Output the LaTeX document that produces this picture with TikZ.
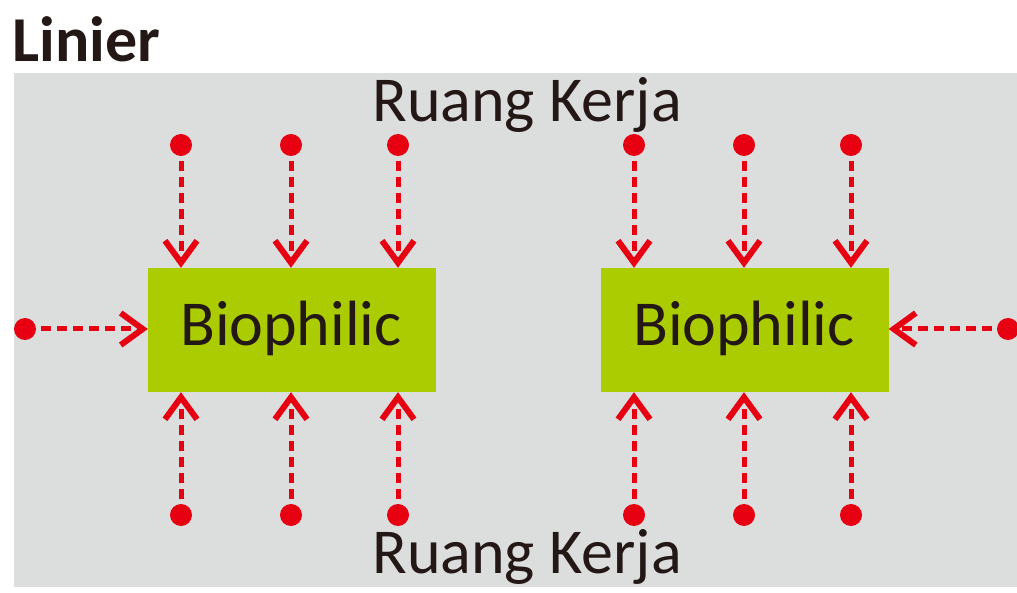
\documentclass[tikz,border=0pt]{standalone}
\usepackage{fontspec}
\setmainfont{Carlito}
\usetikzlibrary{arrows.meta}
\definecolor{bgray}{HTML}{DCDDDD}
\definecolor{bred}{HTML}{E60012}
\definecolor{bgreen}{HTML}{AACC00}
\definecolor{btext}{HTML}{231815}
\tikzset{
  dot/.style={circle, fill=bred, minimum size=22pt, inner sep=0pt, outer sep=0pt},
  box/.style={fill=bgreen, minimum width=288pt, minimum height=124pt, inner sep=0pt,
    text=btext},
  lbl/.style={text=btext, font=\fontsize{64}{64}\selectfont, inner sep=0pt},
  arr/.style={draw=bred, line width=5pt, dash pattern=on 10pt off 6pt, shorten <=5pt,
    -{Straight Barb[length=22pt,width=32pt,line width=6pt]}}
}
\begin{document}
\begin{tikzpicture}[x=1pt,y=-1pt]
\useasboundingbox (0,0) rectangle (1017,593);
\fill[bgray] (14,73) rectangle (1017,587);
\node[anchor=base west, inner sep=0pt, text=btext, font=\fontsize{64}{64}\selectfont\bfseries] (title) at (12,62) {Linier};
\node[lbl, anchor=base] (rk1) at (527,122) {Ruang Kerja};
\node[lbl, anchor=base] (rk2) at (527,573) {Ruang Kerja};
\node[box] (b1) at (292,330) {};
\node[box] (b2) at (744.5,330) {};
\node[lbl, anchor=base] (t1) at (291,345) {Biophilic};
\node[lbl, anchor=base] (t2) at (744,345) {Biophilic};
% dots
\foreach \n/\x in {a/181,b/291,c/398,d/634,e/744,f/851}{
  \node[dot] (top\n) at (\x,145) {};
  \node[dot] (bot\n) at (\x,515) {};
}
\node[dot] (lft) at (25,329) {};
\node[dot] (rgt) at (1008,329) {};
% connectors
\foreach \n in {a,b,c}{
  \draw[arr] (top\n) -- (top\n |- b1.north);
  \draw[arr] (bot\n) -- (bot\n |- b1.south);
}
\foreach \n in {d,e,f}{
  \draw[arr] (top\n) -- (top\n |- b2.north);
  \draw[arr] (bot\n) -- (bot\n |- b2.south);
}
\draw[arr] (lft) -- (lft -| b1.west);
\draw[arr] (rgt) -- (rgt -| b2.east);
\end{tikzpicture}
\end{document}
